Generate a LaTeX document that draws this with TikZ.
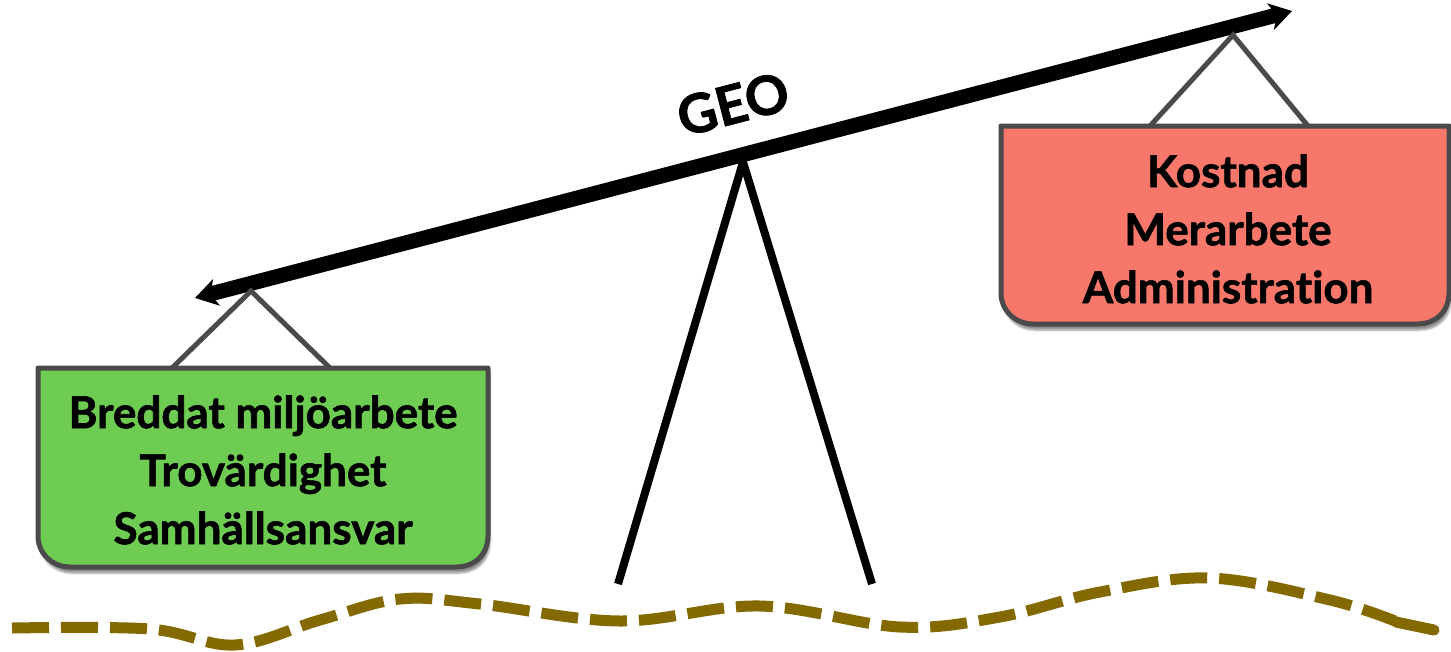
\documentclass[tikz,border=0pt]{standalone}
\usepackage{fontspec}
\setmainfont{Lato}[Ligatures={NoCommon},BoldFeatures={FakeBold=1.4}]
\usetikzlibrary{arrows.meta,shadows.blur}
\definecolor{boxgreen}{HTML}{6FCC52}
\definecolor{boxred}{HTML}{F7786B}
\definecolor{frame}{HTML}{4A4A4A}
\definecolor{olive}{HTML}{836900}
\tikzset{
  signbox/.style={draw=frame,line width=5pt,line join=round,blur shadow={shadow xshift=2pt,shadow yshift=-6pt,shadow blur steps=6,shadow opacity=45}},
  hanger/.style={draw=frame,line width=5pt},
  signtext/.style={font=\fontsize{44}{58}\selectfont\bfseries,align=center,text=black},
  leg/.style={line width=8pt,black},
  beam/.style={line width=15pt,{Stealth[length=22pt,width=27pt,inset=6pt]}-{Stealth[length=22pt,width=27pt,inset=6pt]}},
  ground/.style={draw=olive,line width=11pt,dash pattern=on 37pt off 12pt}
}
\begin{document}
\begin{tikzpicture}[x=1pt,y=-1pt]
\useasboundingbox (0,0) rectangle (1451,651);
% ground
\draw[ground] plot[smooth,tension=0.6] coordinates {(12,628) (150,629) (235,645) (320,620) (400,599) (480,604) (620,621) (760,606) (900,627) (1000,617) (1100,592) (1210,578) (1330,600) (1395,621)};
\coordinate (gEndA) at (1396,622);
\coordinate (gEndB) at (1434,630);
\draw[draw=olive,line width=11pt,line cap=round] (gEndA) -- (gEndB);
% stand
\coordinate (pivot) at (743,162);
\coordinate (footL) at (618,584);
\coordinate (footR) at (872,584);
\draw[leg] (footL) -- (pivot) -- (footR);
% beam
\coordinate (beamL) at (195,298);
\coordinate (beamR) at (1292,11);
\draw[beam] (beamL) -- (beamR);
\node[font=\fontsize{54}{60}\selectfont\bfseries,rotate=14.6,inner sep=0pt] (geo) at (733,104) {GEO};
% left sign
\coordinate (apexL) at (251,291);
\coordinate (hl1) at (172,368);
\coordinate (hl2) at (330,368);
\draw[hanger] (hl1) -- (apexL) -- (hl2);
\path[signbox,fill=boxgreen] (38,368) -- (488,368) -- (488,536) .. controls (488,553.6) and (475.6,567) .. (456,567) -- (70,567) .. controls (52.4,567) and (38,553.6) .. (38,536) -- cycle;
\node[signtext] (left) at (263,470) {Breddat miljöarbete\\Trovärdighet\\Samhällsansvar};
% right sign
\coordinate (apexR) at (1233,35);
\coordinate (hr1) at (1150,126);
\coordinate (hr2) at (1308,126);
\draw[hanger] (hr1) -- (apexR) -- (hr2);
\path[signbox,fill=boxred] (1001,126) -- (1449,126) -- (1449,293) .. controls (1449,310.6) and (1436.6,324) .. (1417,324) -- (1033,324) .. controls (1015.4,324) and (1001,310.6) .. (1001,293) -- cycle;
\node[signtext] (right) at (1228,229) {Kostnad\\Merarbete\\Administration};
\end{tikzpicture}
\end{document}
